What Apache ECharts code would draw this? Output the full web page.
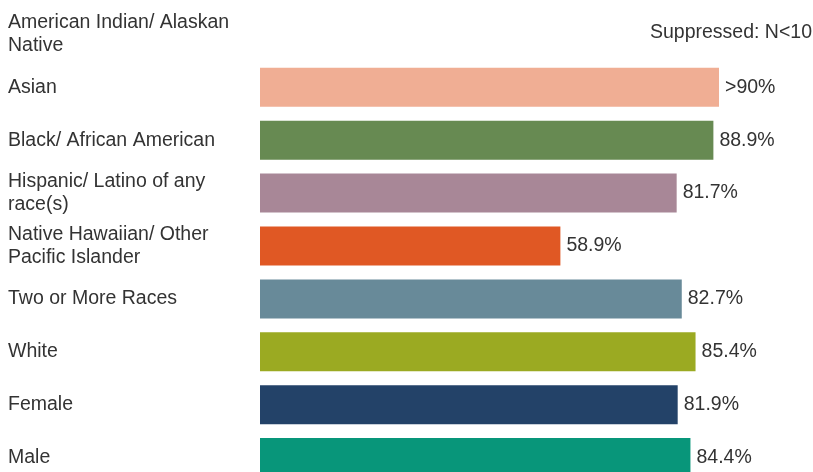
<!DOCTYPE html>
<html>
<head>
<meta charset="utf-8">
<script src="https://cdn.jsdelivr.net/npm/echarts@6/dist/echarts.min.js"></script>
<style>html,body{margin:0;padding:0;background:#fff;overflow:hidden;width:813px;height:472px;}#c{width:813px;height:484px;}</style>
</head>
<body>
<div id="c"></div>
<script>
const categories = ["American Indian/ Alaskan Native","Asian","Black/ African American","Hispanic/ Latino of any race(s)","Native Hawaiian/ Other Pacific Islander","Two or More Races","White","Female","Male"];
const tickLabels = ["American Indian/ Alaskan\nNative","Asian","Black/ African American","Hispanic/ Latino of any\nrace(s)","Native Hawaiian/ Other\nPacific Islander","Two or More Races","White","Female","Male"];
const values = [null, 90, 88.9, 81.7, 58.9, 82.7, 85.4, 81.9, 84.4];
const valueLabels = ["", ">90%", "88.9%", "81.7%", "58.9%", "82.7%", "85.4%", "81.9%", "84.4%"];
const colors = ["#cccccc","#F0AE94","#678A52","#A88797","#E05824","#688A99","#9BAA22","#234268","#08967A"];
const suppressedNote = "Suppressed: N<10";

const FONT = 'Liberation Sans, Arial, sans-serif';
const chart = echarts.init(document.getElementById('c'));
chart.setOption({
  animation: false,
  grid: {left: 260, right: 43, top: 8, bottom: 0, containLabel: false},
  xAxis: {type: 'value', min: 0, max: 100, show: false},
  yAxis: {
    type: 'category', inverse: true, data: categories,
    axisLine: {show: false}, axisTick: {show: false},
    axisLabel: {
      align: 'left', margin: 252, fontSize: 19.5, lineHeight: 23,
      color: '#333', fontFamily: FONT,
      formatter: (v, i) => tickLabels[i]
    }
  },
  series: [{
    type: 'bar', barWidth: 39,
    data: values.map((v, i) => ({value: v, itemStyle: {color: colors[i]}})),
    label: {
      show: true, position: 'right', distance: 6, fontSize: 19.5,
      color: '#333', fontFamily: FONT,
      formatter: p => valueLabels[p.dataIndex]
    }
  }],
  graphic: [{
    type: 'text', right: 1, top: 23,
    style: {text: suppressedNote, fontSize: 19.5, fill: '#333', fontFamily: FONT}
  }]
});
</script>
</body>
</html>
